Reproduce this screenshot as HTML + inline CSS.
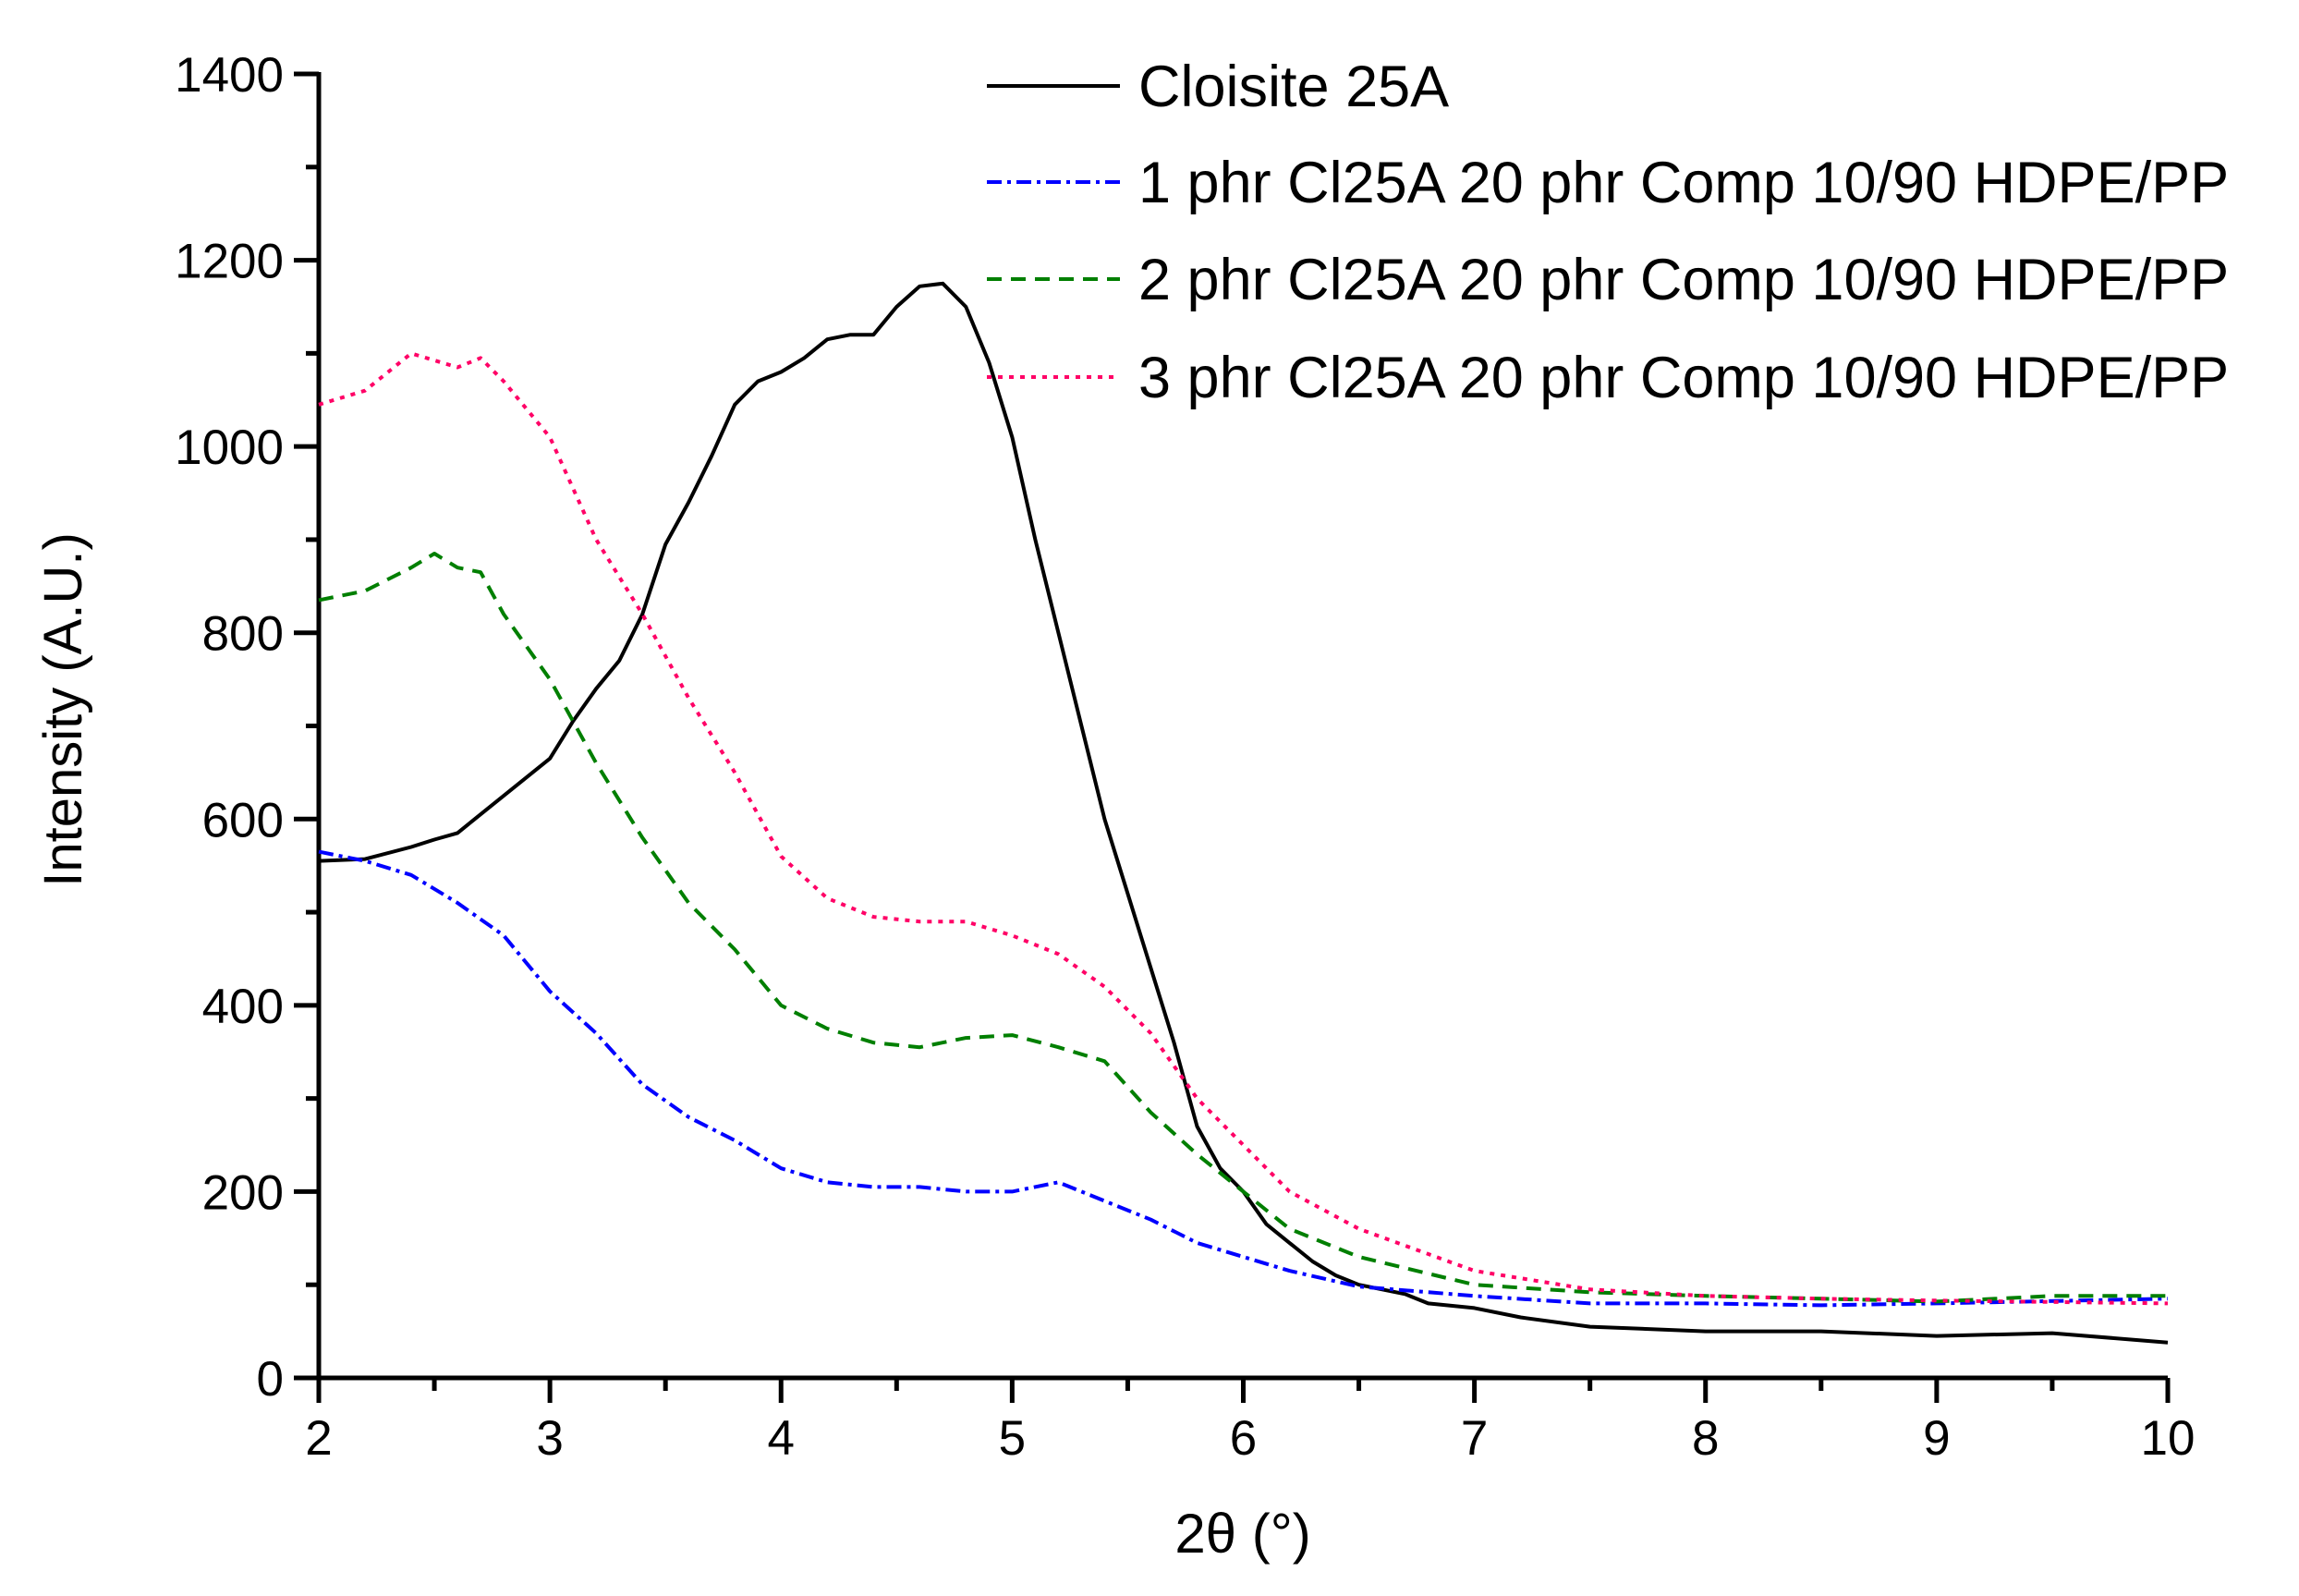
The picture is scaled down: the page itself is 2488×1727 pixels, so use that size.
<!DOCTYPE html>
<html><head><meta charset="utf-8"><style>
html,body{margin:0;padding:0;background:#fff}
svg{display:block;font-family:"Liberation Sans",Arial,sans-serif}
</style></head><body>
<svg id="chart" width="2488" height="1727" viewBox="0 0 2488 1727">
<g id="axes"></g>
<g id="series"></g>
<g id="legend"></g>
<text x="88" y="768" font-size="58" text-anchor="middle" transform="rotate(-90 88 768)">Intensity (A.U.)</text>
<text x="1345" y="1680" font-size="60" text-anchor="middle">2θ (°)</text>
</svg>
<script>
const xTicks=[2,3,4,5,6,7,8,9,10];
const yTicks=[0,200,400,600,800,1000,1200,1400];
const cloisX=[2,2.2,2.4,2.5,2.6,2.7,2.8,2.9,3.0,3.1,3.2,3.3,3.4,3.5,3.6,3.7,3.8,3.9,4.0,4.1,4.2,4.3,4.4,4.5,4.6,4.7,4.8,4.9,5.0,5.1,5.2,5.3,5.4,5.5,5.6,5.7,5.8,5.9,6.0,6.1,6.2,6.3,6.4,6.5,6.7,6.8,7.0,7.2,7.5,8,8.5,9,9.5,10];
const cloisY=[555,557,570,578,585,605,625,645,665,705,740,770,820,895,940,990,1045,1070,1080,1095,1115,1120,1120,1150,1172,1175,1150,1090,1010,900,800,700,600,520,440,360,270,225,200,165,145,125,110,100,90,80,75,65,55,50,50,45,48,38];
const s1X=[2,2.2,2.4,2.6,2.8,3.0,3.2,3.4,3.6,3.8,4.0,4.2,4.4,4.6,4.8,5.0,5.2,5.4,5.6,5.8,6.0,6.2,6.5,7,7.5,8,8.5,9,10];
const s1Y=[565,555,540,510,475,415,370,315,280,255,225,210,205,205,200,200,210,190,170,145,130,115,98,88,80,80,78,80,85];
const s2X=[2,2.2,2.4,2.5,2.6,2.7,2.8,3.0,3.2,3.4,3.6,3.8,4.0,4.2,4.4,4.6,4.8,5.0,5.2,5.4,5.6,5.8,6.0,6.2,6.5,7,7.5,8,8.5,9,9.5,10];
const s2Y=[835,845,870,885,870,865,820,750,660,580,510,460,400,375,360,355,365,368,355,340,285,240,200,160,130,100,92,88,85,82,88,88];
const s3X=[2,2.2,2.4,2.6,2.7,2.8,3.0,3.2,3.4,3.6,3.8,4.0,4.2,4.4,4.6,4.8,5.0,5.2,5.4,5.6,5.8,6.0,6.2,6.5,7,7.5,8,8.5,9,10];
const s3Y=[1045,1060,1100,1085,1095,1070,1010,900,820,730,650,560,515,495,490,490,475,455,420,370,300,250,200,160,115,95,88,85,83,80];
const legendLabels=["Cloisite 25A","1 phr Cl25A 20 phr Comp 10/90 HDPE/PP","2 phr Cl25A 20 phr Comp 10/90 HDPE/PP","3 phr Cl25A 20 phr Comp 10/90 HDPE/PP"];

const NS="http://www.w3.org/2000/svg";
const X0=345,X1=2346,Y0=1491,Y1=80;
const sx=v=>X0+(v-2)/8*(X1-X0);
const sy=v=>Y0-v/1400*(Y0-Y1);
function mk(tag,attrs,parent){const e=document.createElementNS(NS,tag);for(const k in attrs)e.setAttribute(k,attrs[k]);parent.appendChild(e);return e;}
const ax=document.getElementById('axes');
let l=mk('line',{x1:X0,y1:Y0,x2:X1,y2:Y0,stroke:'#000','stroke-width':5},ax);


l=mk('line',{x1:X0,y1:Y0+2,x2:X0,y2:Y1-2,stroke:'#000','stroke-width':5},ax);


xTicks.forEach((v,i)=>{
  const t=mk('line',{x1:sx(v),y1:Y0,x2:sx(v),y2:Y0+27,stroke:'#000','stroke-width':5},ax);
  
  
  if(i<xTicks.length-1){const m=mk('line',{x1:sx(v+0.5),y1:Y0,x2:sx(v+0.5),y2:Y0+14,stroke:'#000','stroke-width':5},ax);
  
  }
  const tx=mk('text',{x:sx(v),y:Y0+83,'font-size':53,'text-anchor':'middle'},ax);tx.textContent=v;
  
  
});
yTicks.forEach((v,i)=>{
  const t=mk('line',{x1:X0,y1:sy(v),x2:X0-27,y2:sy(v),stroke:'#000','stroke-width':5},ax);
  
  
  if(i<yTicks.length-1){const m=mk('line',{x1:X0,y1:sy(v+100),x2:X0-14,y2:sy(v+100),stroke:'#000','stroke-width':5},ax);
  
  }
  const tx=mk('text',{x:X0-38,y:sy(v)+19,'font-size':53,'text-anchor':'end'},ax);tx.textContent=v;
  
  
});
const sg=document.getElementById('series');
const styles=[{c:'#000',d:''},{c:'#0000ff',d:'16 6 4 6'},{c:'#007f00',d:'16 10'},{c:'#ff0066',d:'5 7'}];
const xs=[cloisX,s1X,s2X,s3X],ys=[cloisY,s1Y,s2Y,s3Y];
const names=['cloisite-25a-line','1phr-line','2phr-line','3phr-line'];
xs.forEach((X,k)=>{
  const d=X.map((v,i)=>(i?'L':'M')+sx(v).toFixed(1)+' '+sy(ys[k][i]).toFixed(1)).join(' ');
  const p=mk('path',{d:d,fill:'none',stroke:styles[k].c,'stroke-width':4,'stroke-dasharray':styles[k].d,'stroke-linejoin':'round'},sg);
  
  
});
const lg=document.getElementById('legend');
const ly=[93,197,302,408];
legendLabels.forEach((t,k)=>{
  const ln=mk('line',{x1:1068,y1:ly[k],x2:1212,y2:ly[k],stroke:styles[k].c,'stroke-width':4,'stroke-dasharray':styles[k].d},lg);
  
  
  const tx=mk('text',{x:1232,y:ly[k]+22,'font-size':63},lg);tx.textContent=t;
  
  
});
</script>
</body></html>
